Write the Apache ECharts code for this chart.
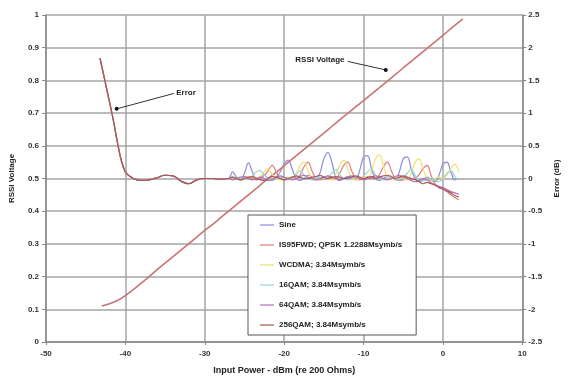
<!DOCTYPE html>
<html>
<head>
<meta charset="utf-8">
<script src="https://cdn.jsdelivr.net/npm/echarts@6/dist/echarts.min.js"></script>
<style>html,body{margin:0;padding:0;background:#fff;}#c{width:569px;height:381px;}</style>
</head>
<body>
<div id="c"></div>
<script>
// ---- axis ticks ----
var xTicks = [-50, -40, -30, -20, -10, 0, 10];
var leftTicks = [0, 0.1, 0.2, 0.3, 0.4, 0.5, 0.6, 0.7, 0.8, 0.9, 1];
var rightTicks = [-2.5, -2, -1.5, -1, -0.5, 0, 0.5, 1, 1.5, 2, 2.5];

// ---- RSSI voltage (left axis) ----
var rssiX = [-43,-42,-41,-40,-39,-38,-37,-36,-35,-34,-33,-32,-31,-30,-29,-28,-27,-26,-25,-24,-23,-22,-21,-20,-19,-18,-17,-16,-15,-14,-13,-12,-11,-10,-9,-8,-7,-6,-5,-4,-3,-2,-1,0,1,2,2.5];
var rssiV = [0.110,0.117,0.127,0.142,0.160,0.180,0.200,0.221,0.241,0.261,0.281,0.301,0.321,0.341,0.360,0.380,0.400,0.420,0.440,0.460,0.480,0.500,0.519,0.539,0.559,0.579,0.599,0.619,0.639,0.659,0.679,0.699,0.719,0.738,0.758,0.778,0.798,0.818,0.838,0.858,0.878,0.898,0.918,0.938,0.958,0.978,0.988];

// ---- Error (right axis) ----
var errXLow = [-43.2,-42.5,-42,-41.5,-41,-40.5,-40,-39.5,-39,-38,-37,-36,-35,-34,-33,-32,-31,-30,-29,-28];
var errLow  = [1.84,1.45,1.17,0.88,0.55,0.27,0.10,0.04,0.0,-0.03,-0.02,0.01,0.05,0.04,-0.04,-0.08,-0.02,0.0,0.0,-0.01];
var errXHigh = [-27,-26.5,-26,-25.5,-25,-24.5,-24,-23.5,-23,-22.5,-22,-21.5,-21,-20.5,-20,-19.5,-19,-18.5,-18,-17.5,-17,-16.5,-16,-15.5,-15,-14.5,-14,-13.5,-13,-12.5,-12,-11.5,-11,-10.5,-10,-9.5,-9,-8.5,-8,-7.5,-7,-6.5,-6,-5.5,-5,-4.5,-4,-3.5,-3,-2.5,-2,-1.5,-1,-0.5,0,0.5,1,1.5,2];

var seriesNames = ['Sine','IS95FWD; QPSK 1.2288Msymb/s','WCDMA; 3.84Msymb/s','16QAM; 3.84Msymb/s','64QAM; 3.84Msymb/s','256QAM; 3.84Msymb/s'];
var seriesColors = ['#8a8ade','#e27a7a','#f0e070','#9ad6d6','#b46cb4','#a85a50'];

var errSine  = [0.0,0.1,0.02,-0.02,0.08,0.24,0.1,-0.02,0.0,0.05,0.0,-0.03,0.02,0.1,0.22,0.28,0.15,0.0,-0.03,0.0,0.05,0.02,-0.02,0.08,0.3,0.4,0.25,0.02,-0.03,0.0,0.03,0.0,-0.02,0.12,0.33,0.35,0.15,0.0,-0.03,0.0,0.03,0.0,-0.02,0.1,0.3,0.33,0.15,0.0,-0.05,-0.02,0.02,-0.02,-0.05,0.05,0.22,0.25,0.1,-0.02,0.0];
var errIS95  = [0.0,0.02,0.0,-0.02,0.0,0.02,0.0,-0.02,0.0,0.05,0.12,0.2,0.1,0.0,-0.02,0.0,0.02,0.0,0.05,0.18,0.25,0.12,0.0,-0.02,0.0,0.02,0.0,0.0,0.08,0.2,0.25,0.12,0.0,-0.02,0.0,0.02,0.0,0.0,0.06,0.18,0.25,0.12,0.0,-0.03,-0.02,0.0,-0.02,0.0,0.06,0.15,0.2,0.05,-0.08,-0.12,-0.16,-0.2,-0.25,-0.29,-0.33];
var errWCDMA = [0.0,0.02,0.0,-0.02,0.0,0.03,0.02,0.0,0.03,0.1,0.15,0.06,0.0,-0.02,0.0,0.02,0.0,0.08,0.2,0.25,0.12,0.0,-0.02,0.0,0.02,0.0,-0.02,0.06,0.2,0.28,0.15,0.0,-0.02,0.0,0.02,0.0,0.1,0.3,0.36,0.2,0.02,-0.02,0.0,0.02,0.0,-0.02,0.08,0.25,0.3,0.15,0.0,-0.03,0.0,0.02,0.0,0.05,0.15,0.22,0.1];
var err16QAM = [0.0,0.0,0.02,0.0,-0.02,0.0,0.04,0.1,0.12,0.05,0.0,-0.02,0.0,0.02,0.0,-0.02,0.0,0.06,0.12,0.05,0.0,-0.02,0.0,0.02,0.0,0.02,0.08,0.14,0.06,0.0,-0.02,0.0,0.02,0.0,0.04,0.1,0.14,0.06,0.0,-0.02,0.0,0.02,0.0,-0.02,0.02,0.08,0.14,0.05,-0.02,-0.04,-0.02,0.0,-0.03,-0.05,0.0,0.08,0.12,0.03,-0.02];
var err64QAM = [0.0,-0.02,0.0,0.02,0.03,0.0,-0.02,0.0,0.02,0.0,-0.03,-0.02,0.02,0.04,0.02,0.0,-0.02,0.0,0.03,0.05,0.02,0.0,-0.02,0.0,0.02,0.04,0.02,0.0,-0.02,0.0,0.02,0.04,0.03,0.0,-0.02,0.0,0.02,0.04,0.02,0.0,-0.02,0.0,0.03,0.05,0.02,0.0,-0.03,-0.05,-0.03,0.0,-0.02,-0.06,-0.1,-0.12,-0.14,-0.17,-0.2,-0.22,-0.24];
var err256QAM= [0.0,0.02,0.0,-0.02,0.0,0.02,0.03,0.0,-0.02,-0.03,0.0,0.03,0.02,0.0,-0.02,0.0,0.02,0.04,0.02,0.0,0.0,0.02,0.03,0.05,0.02,0.0,0.02,0.03,0.02,0.0,0.0,0.02,0.04,0.02,0.0,0.02,0.03,0.0,0.02,0.04,0.05,0.03,0.0,0.02,0.04,0.02,0.0,-0.02,-0.05,-0.08,-0.06,-0.08,-0.1,-0.14,-0.16,-0.19,-0.22,-0.26,-0.28];
var errHigh = [errSine, errIS95, errWCDMA, err16QAM, err64QAM, err256QAM];

// ---- annotations (data space) ----
var annErrText = [-33.6, 0.763];
var annErrFrom = [-33.9, 0.760];
var annErrTo   = [-41.1, 0.713];
var annRssiText = [-12.4, 0.862];
var annRssiFrom = [-12.0, 0.858];
var annRssiTo   = [-7.2, 0.832];

function pairs(xs, ys){ var o=[]; for(var i=0;i<xs.length;i++) o.push([xs[i], ys[i]]); return o; }

var FONT = 'Liberation Sans, Arial, sans-serif';
var gridColor = '#a4a4a4';

var series = [{
  name: 'RSSI', type: 'line', yAxisIndex: 0, symbol: 'none', smooth: 0.3,
  lineStyle: { color: '#c87474', width: 1.6 }, itemStyle: { color: '#c87474' },
  data: pairs(rssiX, rssiV), z: 3
}];
for (var s = 0; s < seriesNames.length; s++) {
  series.push({
    name: seriesNames[s], type: 'line', yAxisIndex: 1, symbol: 'none', smooth: 0.4,
    lineStyle: { color: seriesColors[s], width: 1.2 }, itemStyle: { color: seriesColors[s] },
    data: pairs(errXLow.concat(errXHigh), errLow.concat(errHigh[s])), z: 2 + s
  });
}

var chart = echarts.init(document.getElementById('c'), null, { renderer: 'canvas' });
chart.setOption({
  animation: false,
  backgroundColor: '#fff',
  textStyle: { fontFamily: FONT },
  grid: { left: 45, right: 37, top: 15, bottom: 39, containLabel: false },
  legend: {
    data: seriesNames, orient: 'vertical', left: 248, top: 215,
    icon: 'rect', itemWidth: 14, itemHeight: 1.2, itemGap: 12, padding: [6, 14, 6, 12],
    backgroundColor: '#fff', borderColor: '#555', borderWidth: 1,
    textStyle: { fontSize: 8, lineHeight: 8, height: 8, color: '#222', fontFamily: FONT, fontWeight: 'bold' }
  },
  xAxis: {
    type: 'value', min: xTicks[0], max: xTicks[xTicks.length - 1], interval: 10,
    name: 'Input Power - dBm (re 200 Ohms)', nameLocation: 'middle', nameGap: 24,
    nameTextStyle: { fontSize: 9, fontWeight: 'bold', color: '#222', fontFamily: FONT },
    axisLine: { onZero: false, lineStyle: { color: '#888', width: 1.5 } },
    axisTick: { show: true, length: 3, lineStyle: { color: '#888' } },
    axisLabel: { fontSize: 8, color: '#333', margin: 8, fontWeight: 'bold' },
    splitLine: { show: true, lineStyle: { color: gridColor, width: 1.5 } }
  },
  yAxis: [{
    type: 'value', min: leftTicks[0], max: leftTicks[leftTicks.length - 1], interval: 0.1,
    name: 'RSSI Voltage', nameLocation: 'middle', nameGap: 30,
    nameTextStyle: { fontSize: 8, fontWeight: 'bold', color: '#222', fontFamily: FONT },
    axisLine: { show: true, onZero: false, lineStyle: { color: '#888', width: 1.5 } },
    axisTick: { show: true, length: 4, lineStyle: { color: '#888' } },
    axisLabel: { fontSize: 8, color: '#333', margin: 7, fontWeight: 'bold' },
    splitLine: { show: true, lineStyle: { color: gridColor, width: 1.5 } }
  }, {
    type: 'value', min: rightTicks[0], max: rightTicks[rightTicks.length - 1], interval: 0.5,
    position: 'right',
    name: 'Error (dB)', nameLocation: 'middle', nameGap: 26, nameRotate: 90,
    nameTextStyle: { fontSize: 8, fontWeight: 'bold', color: '#222', fontFamily: FONT },
    axisLine: { show: true, onZero: false, lineStyle: { color: '#888', width: 1.5 } },
    axisTick: { show: true, length: 4, lineStyle: { color: '#888' } },
    axisLabel: { fontSize: 8, color: '#333', margin: 6, fontWeight: 'bold' },
    splitLine: { show: false }
  }],
  series: series
});

function px(p){ return chart.convertToPixel({ xAxisIndex: 0, yAxisIndex: 0 }, p); }
var eT = px(annErrText), eF = px(annErrFrom), eTo = px(annErrTo);
var rT = px(annRssiText), rF = px(annRssiFrom), rTo = px(annRssiTo);
chart.setOption({
  graphic: [
    { type: 'text', x: eT[0], y: eT[1], style: { text: 'Error', fontSize: 8, fontWeight: 'bold', fill: '#222', fontFamily: FONT, textAlign: 'left', textVerticalAlign: 'middle' }, z: 20 },
    { type: 'line', shape: { x1: eF[0], y1: eF[1], x2: eTo[0], y2: eTo[1] }, style: { stroke: '#333', lineWidth: 1 }, z: 20 },
    { type: 'circle', shape: { cx: eTo[0], cy: eTo[1], r: 2 }, style: { fill: '#111' }, z: 20 },
    { type: 'text', x: rT[0], y: rT[1], style: { text: 'RSSI Voltage', fontSize: 8, fontWeight: 'bold', fill: '#222', fontFamily: FONT, textAlign: 'right', textVerticalAlign: 'middle' }, z: 20 },
    { type: 'line', shape: { x1: rF[0], y1: rF[1], x2: rTo[0], y2: rTo[1] }, style: { stroke: '#333', lineWidth: 1 }, z: 20 },
    { type: 'circle', shape: { cx: rTo[0], cy: rTo[1], r: 2 }, style: { fill: '#111' }, z: 20 }
  ]
});
</script>
</body>
</html>
